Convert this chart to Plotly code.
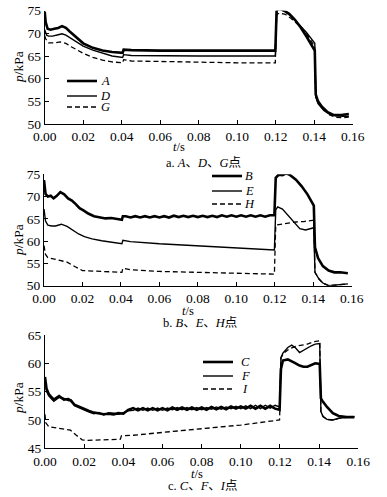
import plotly.graph_objects as go

# ---------------- data ----------------
# Panel a: A, D, G
tA = [0, 0.0005, 0.0015, 0.003, 0.005, 0.007, 0.009, 0.011, 0.013, 0.016, 0.02, 0.025, 0.03, 0.035, 0.0405, 0.041, 0.045, 0.06, 0.08, 0.1, 0.1198, 0.1205, 0.122, 0.124, 0.127, 0.13, 0.133, 0.136, 0.139, 0.1403, 0.1408, 0.142, 0.144, 0.147, 0.15, 0.154, 0.158]
pA = [74.8, 72.5, 71.0, 70.8, 71.0, 71.2, 71.6, 71.2, 70.4, 69.2, 67.8, 66.8, 66.2, 65.9, 65.7, 66.4, 66.3, 66.2, 66.2, 66.2, 66.2, 75.2, 75.4, 75.1, 74.3, 73.0, 71.3, 69.3, 67.2, 66.2, 56.5, 55.0, 53.8, 52.6, 52.0, 52.0, 52.2]

tD = [0, 0.001, 0.002, 0.004, 0.007, 0.009, 0.011, 0.014, 0.017, 0.02, 0.025, 0.03, 0.035, 0.0405, 0.041, 0.045, 0.06, 0.08, 0.1, 0.1198, 0.1205, 0.122, 0.125, 0.128, 0.132, 0.136, 0.1403, 0.1408, 0.142, 0.145, 0.148, 0.151, 0.155, 0.158]
pD = [70.8, 69.6, 69.4, 69.4, 69.7, 69.9, 69.6, 68.8, 67.9, 67.2, 66.3, 65.7, 65.0, 64.7, 65.3, 65.1, 65.0, 65.0, 65.0, 65.0, 75.0, 75.3, 74.8, 73.8, 72.0, 70.2, 67.8, 56.0, 54.5, 53.0, 52.2, 51.8, 51.7, 51.7]

tG = [0, 0.0005, 0.002, 0.005, 0.008, 0.011, 0.014, 0.017, 0.02, 0.025, 0.03, 0.035, 0.0405, 0.041, 0.045, 0.06, 0.08, 0.1, 0.1198, 0.1205, 0.122, 0.125, 0.128, 0.132, 0.136, 0.1403, 0.1408, 0.142, 0.145, 0.148, 0.151, 0.155, 0.158]
pG = [69.5, 68.8, 67.9, 67.9, 68.1, 67.8, 67.0, 66.3, 65.6, 64.7, 64.1, 63.7, 63.5, 64.2, 63.9, 63.8, 63.6, 63.5, 63.5, 74.2, 74.5, 74.2, 73.3, 71.8, 70.0, 67.0, 56.2, 54.8, 53.2, 52.0, 51.5, 51.4, 51.5]

# Panel b: B, E, H
tB = [0, 0.0008, 0.002, 0.0035, 0.005, 0.0065, 0.0085, 0.0105, 0.0125, 0.0145, 0.0165, 0.0185, 0.0205, 0.023, 0.026, 0.029, 0.032, 0.035, 0.038, 0.0405, 0.041,
      0.0425, 0.045, 0.0475, 0.05, 0.0525, 0.055, 0.0575, 0.06, 0.0625, 0.065, 0.0675, 0.07, 0.0725, 0.075, 0.0775, 0.08,
      0.0825, 0.085, 0.0875, 0.09, 0.0925, 0.095, 0.0975, 0.1, 0.1025, 0.105, 0.1075, 0.11, 0.1125, 0.115, 0.1175,
      0.1198, 0.1205, 0.122, 0.124, 0.126, 0.128, 0.131, 0.134, 0.137, 0.1403, 0.1409, 0.1425, 0.145, 0.148, 0.151, 0.154, 0.158]
pB = [73.7, 70.6, 70.0, 70.2, 69.6, 70.1, 71.0, 70.5, 69.6, 69.1, 68.3, 67.4, 66.9, 66.2, 65.6, 65.3, 65.1, 65.2, 64.9, 64.8, 65.6,
      65.6, 65.3, 65.6, 65.3, 65.6, 65.3, 65.6, 65.3, 65.6, 65.3, 65.7, 65.4, 65.7, 65.4, 65.7, 65.4,
      65.7, 65.4, 65.7, 65.4, 65.8, 65.5, 65.8, 65.5, 65.8, 65.5, 65.8, 65.5, 65.8, 65.5, 65.8,
      65.8, 74.2, 74.9, 74.8, 75.2, 74.8, 73.8, 72.3, 70.5, 68.0, 58.6, 56.2, 54.4, 53.4, 53.0, 53.0, 52.8]

tE = [0, 0.0008, 0.002, 0.004, 0.006, 0.009, 0.012, 0.015, 0.018, 0.021, 0.025, 0.03, 0.035, 0.0405, 0.041, 0.045, 0.06, 0.08, 0.1, 0.1198, 0.1205, 0.1215, 0.124, 0.127, 0.13, 0.133, 0.136, 0.139, 0.1403, 0.1409, 0.143, 0.145, 0.148, 0.151, 0.155, 0.158]
pE = [67.2, 64.5, 63.6, 63.4, 63.4, 63.8, 63.3, 62.5, 61.6, 61.0, 60.5, 60.1, 59.7, 59.4, 60.2, 59.9, 59.4, 58.9, 58.5, 58.0, 67.0, 67.7, 67.2, 65.8, 64.3, 62.8, 62.5, 62.9, 63.0, 53.0, 51.5, 50.6, 50.0, 50.1, 50.3, 50.4]

tH = [0, 0.0008, 0.002, 0.005, 0.009, 0.012, 0.016, 0.02, 0.03, 0.0405, 0.041, 0.045, 0.06, 0.08, 0.1, 0.1198, 0.1205, 0.123, 0.127, 0.131, 0.135, 0.1403, 0.1409, 0.143, 0.145, 0.148, 0.151, 0.155, 0.158]
pH = [59.0, 57.0, 56.3, 56.0, 55.6, 55.3, 54.3, 53.4, 53.2, 53.0, 53.9, 53.6, 53.2, 53.0, 52.8, 52.6, 63.6, 63.8, 64.1, 64.3, 64.4, 64.7, 53.0, 51.5, 50.6, 50.0, 50.1, 50.3, 50.4]

# Panel c: C, F, I
tC = [0, 0.0008, 0.002, 0.0045, 0.0072, 0.0097, 0.012, 0.0135, 0.015, 0.0175, 0.02, 0.0225, 0.025, 0.0275, 0.03, 0.0325, 0.035, 0.0375, 0.04, 0.0425,
      0.045, 0.0475, 0.05, 0.0525, 0.055, 0.0575, 0.06, 0.0625, 0.065, 0.0675, 0.07, 0.0725, 0.075, 0.0775, 0.08,
      0.0825, 0.085, 0.0875, 0.09, 0.0925, 0.095, 0.0975, 0.1, 0.1025, 0.105, 0.1075, 0.11, 0.1125, 0.115, 0.1175,
      0.1198, 0.1205, 0.1215, 0.124, 0.126, 0.128, 0.13, 0.132, 0.134, 0.136, 0.138, 0.1403, 0.1409, 0.142, 0.144, 0.147, 0.15, 0.154, 0.158]
pC = [57.6, 55.5, 54.5, 53.6, 54.2, 53.6, 53.7, 53.3, 52.7, 52.3, 51.9, 51.6, 51.3, 51.1, 51.0, 51.1, 51.0, 51.2, 51.1, 51.8,
      52.1, 51.7, 52.1, 51.7, 52.1, 51.7, 52.1, 51.7, 52.2, 51.8, 52.2, 51.8, 52.2, 51.8, 52.2,
      51.8, 52.3, 51.9, 52.3, 51.9, 52.4, 52.0, 52.4, 52.0, 52.5, 52.0, 52.5, 52.0, 52.5, 52.0,
      51.8, 59.0, 60.5, 60.7, 60.4, 60.0, 59.6, 59.4, 59.4, 59.7, 60.0, 59.9, 53.8, 53.2, 52.3, 51.2, 50.7, 50.5, 50.5]

tF = tC
pF = [57.4, 55.0, 54.2, 53.3, 54.0, 53.8, 53.4, 53.5, 52.5, 52.1, 51.7, 51.4, 51.1, 51.3, 50.9, 51.3, 51.2, 51.0, 51.3, 51.6,
      51.7, 52.1, 51.7, 52.1, 51.7, 52.1, 51.7, 52.1, 51.8, 52.2, 51.8, 52.2, 51.8, 52.2, 51.8,
      52.2, 51.9, 52.3, 51.9, 52.3, 52.0, 52.4, 52.0, 52.5, 52.0, 52.6, 52.0, 52.6, 52.1, 52.6,
      52.3, 61.0, 61.8, 62.8, 63.2, 62.7, 61.9, 62.3, 62.8, 63.1, 63.4, 63.5, 51.5, 50.6, 50.1, 50.0, 50.3, 50.5, 50.6]

tI = [0, 0.0004, 0.002, 0.006, 0.01, 0.013, 0.016, 0.019, 0.022, 0.03, 0.0385, 0.039, 0.045, 0.06, 0.08, 0.1, 0.1198, 0.1205, 0.122, 0.125, 0.128, 0.131, 0.134, 0.137, 0.1403, 0.1409, 0.142, 0.144, 0.147, 0.15, 0.154, 0.158]
pI = [51.0, 49.5, 48.8, 48.6, 48.4, 48.2, 47.3, 46.5, 46.4, 46.5, 46.6, 47.2, 47.3, 47.8, 48.4, 49.1, 50.0, 61.0, 61.8, 62.6, 63.0, 63.2, 63.4, 63.8, 64.0, 51.5, 50.6, 50.1, 50.0, 50.3, 50.5, 50.6]

x_ticks = [0.00, 0.02, 0.04, 0.06, 0.08, 0.10, 0.12, 0.14, 0.16]
panel_names = [["A", "D", "G"], ["B", "E", "H"], ["C", "F", "I"]]
captions = ["a. <i>A</i>、<i>D</i>、<i>G</i>点", "b. <i>B</i>、<i>E</i>、<i>H</i>点", "c. <i>C</i>、<i>F</i>、<i>I</i>点"]
y_ranges = [[50, 75], [50, 75], [45, 65]]

# ---------------- figure ----------------
W, H = 387, 497
def px(x):
    return x / W
def py(y):
    return 1 - y / H

SERIF = "Liberation Serif"
CJK = "Liberation Serif, Noto Sans CJK SC"

styles = [dict(width=2.6, dash="solid"), dict(width=1.4, dash="solid"), dict(width=1.3, dash="5px,3px")]

series = [[(tA, pA), (tD, pD), (tG, pG)], [(tB, pB), (tE, pE), (tH, pH)], [(tC, pC), (tF, pF), (tI, pI)]]

fig = go.Figure()
for i, grp in enumerate(series):
    xa = "x" if i == 0 else f"x{i+1}"
    ya = "y" if i == 0 else f"y{i+1}"
    for j, (t, p) in enumerate(grp):
        fig.add_trace(go.Scatter(x=t, y=p, mode="lines", xaxis=xa, yaxis=ya,
                                 line=dict(color="black", width=styles[j]["width"], dash=styles[j]["dash"]),
                                 name=panel_names[i][j], showlegend=False))

# panel geometry (pixels)
xdom = [(44.7, 352.7), (44.0, 351.7), (45.0, 358.3)]
ydom = [(10.7, 124.0), (174.3, 285.7), (335.0, 448.3)]

axis_common = dict(showline=True, linecolor="black", linewidth=1, ticks="inside", ticklen=4,
                   tickcolor="black", tickwidth=1, showgrid=False, zeroline=False, automargin=False,
                   tickfont=dict(family=SERIF, size=13.5, color="black"))
layout = {}
for i in range(3):
    xk = "xaxis" if i == 0 else f"xaxis{i+1}"
    yk = "yaxis" if i == 0 else f"yaxis{i+1}"
    ya = "y" if i == 0 else f"y{i+1}"
    xa = "x" if i == 0 else f"x{i+1}"
    layout[xk] = dict(domain=[px(xdom[i][0]), px(xdom[i][1])], range=[0, 0.16], anchor=ya,
                      tickvals=x_ticks, tickformat=".2f", **axis_common)
    layout[yk] = dict(domain=[py(ydom[i][1]), py(ydom[i][0])], range=y_ranges[i], anchor=xa,
                      dtick=5, **axis_common)

fig.update_layout(template="none", width=W, height=H,
                  margin=dict(l=0, r=0, t=0, b=0, pad=0, autoexpand=False),
                  plot_bgcolor="white", paper_bgcolor="white", **layout)

ann = []
def add_text(x, y, text, size, family=SERIF, angle=0):
    ann.append(dict(x=px(x), y=py(y), xref="paper", yref="paper", text=text, textangle=angle,
                    xanchor="center", yanchor="middle", showarrow=False, borderpad=0,
                    font=dict(family=family, size=size, color="black")))

ytitle_y = [67, 240, 398]
xtitle_x = [179, 188, 197]
xtitle_y = [147, 311, 474]
cap_x = [203, 200, 203]
cap_y = [163, 323, 486]
for i in range(3):
    add_text(18, ytitle_y[i], "<i>p</i>/kPa", 13.5, angle=-90)
    add_text(xtitle_x[i], xtitle_y[i], "<i>t</i>/s", 12.5)
    add_text(cap_x[i], cap_y[i], captions[i], 12.5, family=CJK)

# legends (sample lines + labels)
leg_x = [(67, 97, 105), (212, 242, 249), (203, 233, 245)]
leg_y = [(81, 96, 107), (176, 191, 204), (362, 376, 389)]
shapes = []
for i in range(3):
    x0, x1, xl = leg_x[i]
    for j in range(3):
        yy = py(leg_y[i][j])
        shapes.append(dict(type="line", xref="paper", yref="paper", x0=px(x0), x1=px(x1), y0=yy, y1=yy,
                           line=dict(color="black", width=styles[j]["width"], dash=styles[j]["dash"])))
        add_text(xl, leg_y[i][j], f"<i>{panel_names[i][j]}</i>", 12.5)

fig.update_layout(annotations=ann, shapes=shapes)
fig.write_html("out.html", config={"displayModeBar": False},
               post_script="document.body.style.margin='0';document.body.style.padding='0';")
